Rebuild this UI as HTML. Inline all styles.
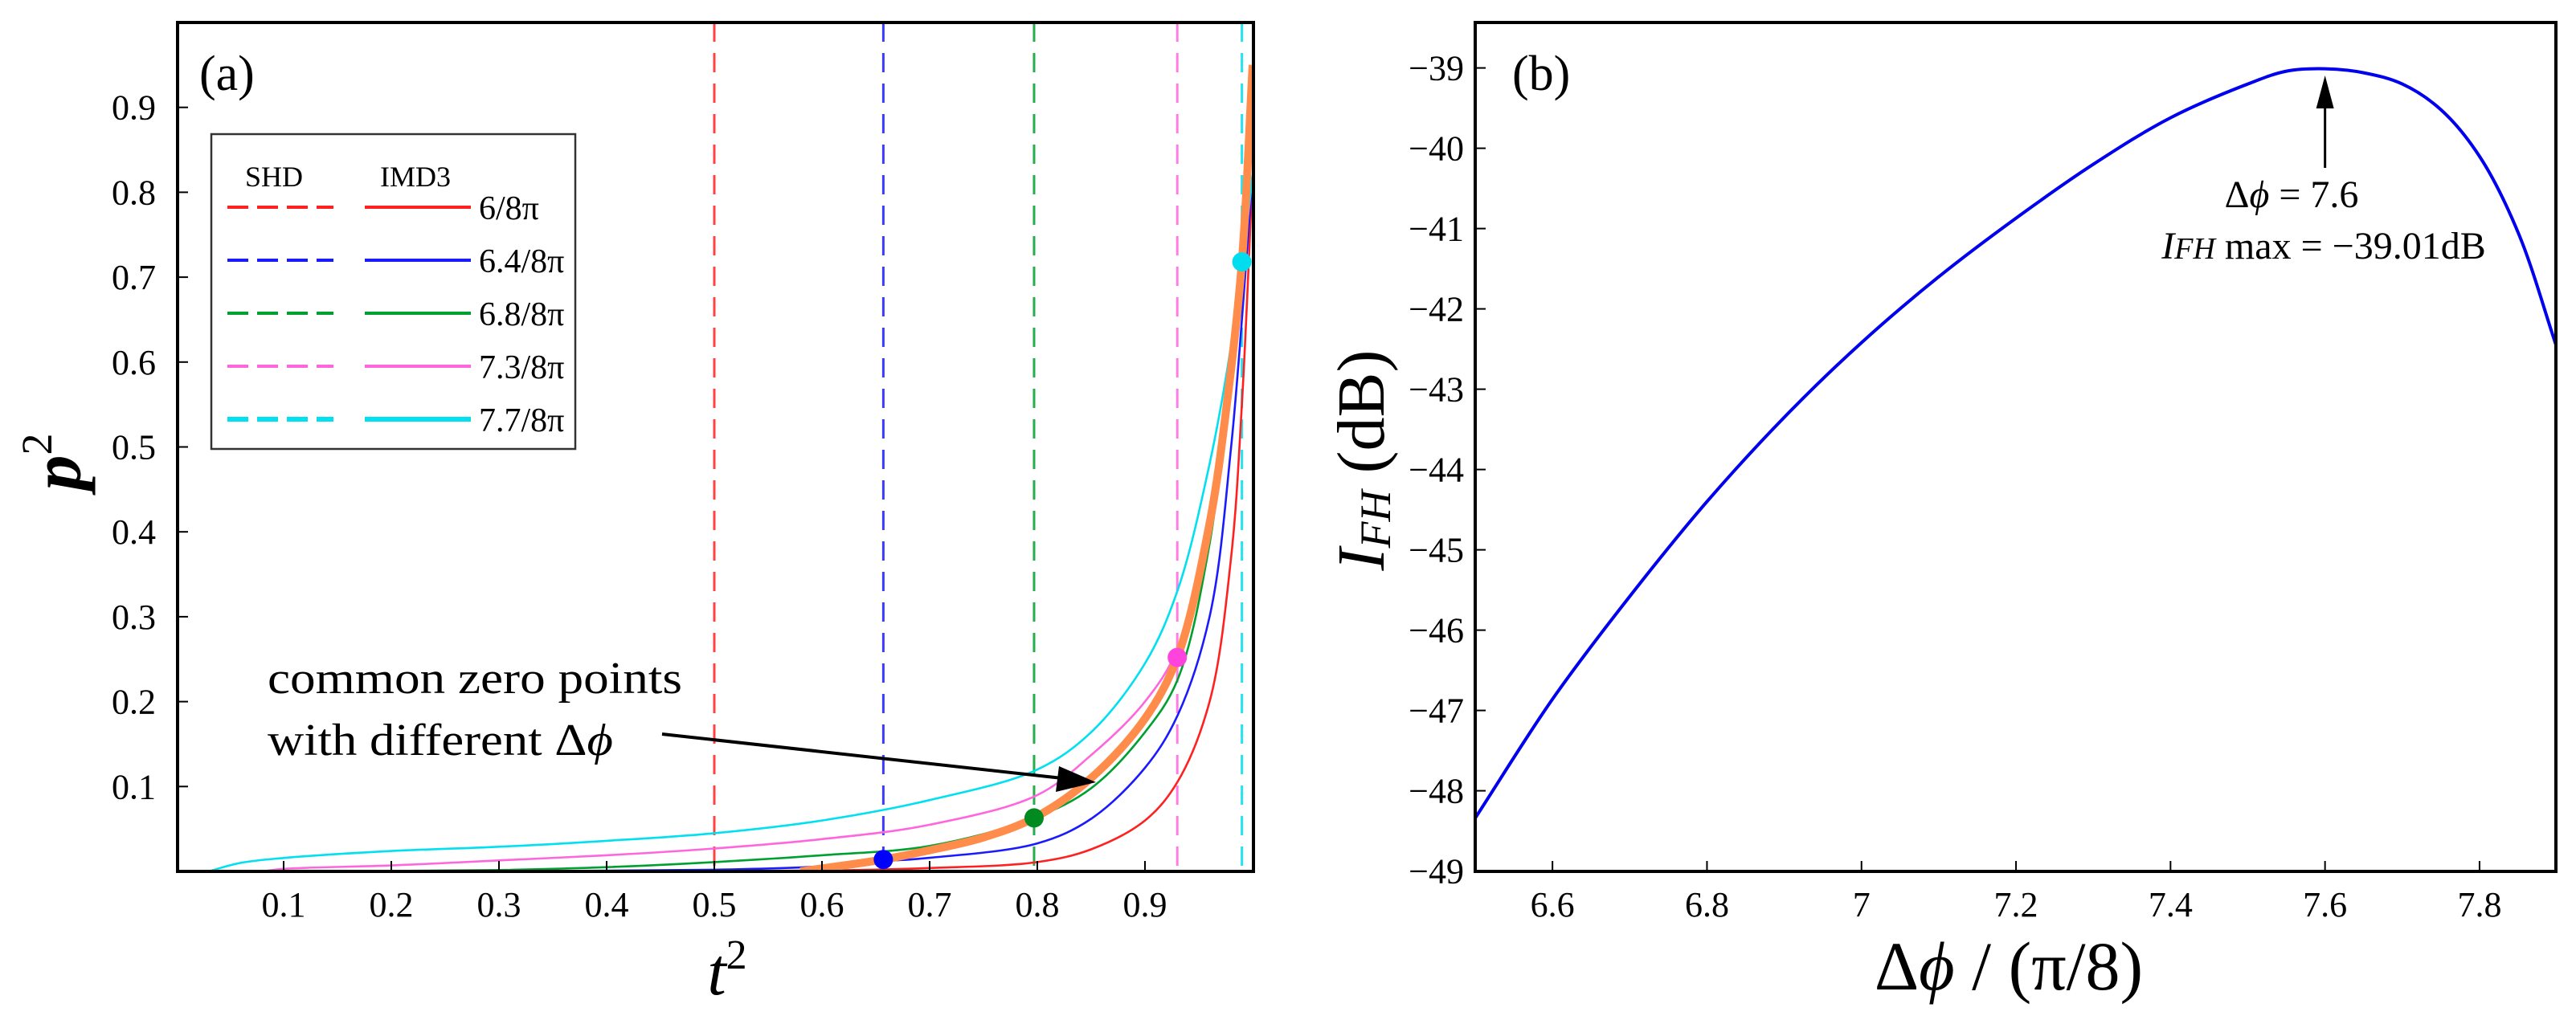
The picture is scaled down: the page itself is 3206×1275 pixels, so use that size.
<!DOCTYPE html>
<html><head><meta charset="utf-8"><style>
html,body{margin:0;padding:0;background:#fff;}
svg{display:block;font-family:"Liberation Serif",serif;}
</style></head><body>
<svg id="fig" width="3206" height="1275" viewBox="0 0 3206 1275" xmlns="http://www.w3.org/2000/svg">
<defs>
<clipPath id="clipA"><rect x="221" y="28" width="1339" height="1057"/></clipPath>
<clipPath id="clipB"><rect x="1836" y="28" width="1345" height="1057"/></clipPath>
</defs>
<g id="panelA"></g>
<g id="panelB"></g>
</svg>
<script>
// ---------- Panel (a) data ----------
const xTicksA = [0.1,0.2,0.3,0.4,0.5,0.6,0.7,0.8,0.9];
const yTicksA = [0.1,0.2,0.3,0.4,0.5,0.6,0.7,0.8,0.9];
const seriesNames = ["6/8π","6.4/8π","6.8/8π","7.3/8π","7.7/8π"];
const seriesColors = ["#ff2020","#1a1aff","#00a030","#ff66dd","#00e0f0"];
const shdLines = [0.50,0.657,0.797,0.93,0.99];
const redT = [0.45,0.6,0.7,0.8,0.85,0.9,0.93,0.96,0.98,0.99,1.0];
const redP = [0,0.001,0.004,0.011,0.026,0.06,0.105,0.2,0.37,0.55,0.82];
const blueT = [0.3,0.5,0.6,0.657,0.7,0.8,0.85,0.9,0.93,0.96,0.98,1.0];
const blueP = [0,0.002,0.006,0.012,0.016,0.033,0.062,0.122,0.183,0.30,0.5,0.82];
const greenT = [0.15,0.3,0.4,0.5,0.6,0.7,0.797,0.85,0.9,0.93,0.96,0.98,1.0];
const greenP = [0,0.0016,0.005,0.011,0.019,0.03,0.063,0.098,0.164,0.225,0.386,0.6,0.82];
const pinkT = [0.08,0.1,0.2,0.3,0.4,0.5,0.6,0.7,0.8,0.85,0.9,0.93,0.96,0.98,1.0];
const pinkP = [0,0.003,0.007,0.013,0.019,0.027,0.038,0.055,0.09,0.137,0.2,0.262,0.42,0.6,0.82];
const cyanT = [0.03,0.06,0.1,0.2,0.3,0.4,0.5,0.6,0.7,0.8,0.85,0.9,0.93,0.96,0.98,0.99,1.0];
const cyanP = [0,0.01,0.0158,0.024,0.029,0.036,0.045,0.06,0.084,0.12,0.164,0.245,0.33,0.48,0.62,0.718,0.82];
const orangeT = [0.58,0.657,0.7,0.75,0.797,0.85,0.9,0.93,0.96,0.976,0.99,1.0];
const orangeP = [0,0.014,0.025,0.04,0.063,0.11,0.18,0.252,0.41,0.55,0.718,0.95];
const zeroT = [0.657,0.797,0.93,0.99];
const zeroP = [0.014,0.063,0.252,0.718];
const zeroColors = ["#0000ff","#008a20","#ff44dd","#00ddee"];
// ---------- Panel (b) data ----------
const xTicksB = [6.6,6.8,7,7.2,7.4,7.6,7.8];
const yTicksB = [-39,-40,-41,-42,-43,-44,-45,-46,-47,-48,-49];
const phiVals = [6.5,6.6,6.7,6.8,6.9,7.0,7.1,7.2,7.3,7.4,7.5,7.55,7.6,7.65,7.7,7.75,7.8,7.85,7.9];
const ifhVals = [-48.34,-46.86,-45.58,-44.4,-43.35,-42.42,-41.6,-40.87,-40.2,-39.62,-39.2,-39.04,-39.01,-39.06,-39.2,-39.52,-40.1,-41.05,-42.48];

const NS="http://www.w3.org/2000/svg";
function mk(parent,tag,attrs,text){const e=document.createElementNS(NS,tag);for(const k in attrs)e.setAttribute(k,attrs[k]);if(text!==undefined)e.textContent=text;parent.appendChild(e);return e;}

const xA = v => 219 + v*1340;
const yA = v => 1085 - v*1057;
const xB = v => 1836 + (v-6.5)*961.5;
const yB = v => 84.6 + (-39 - v)*100;

function crPath(xs,ys,fx,fy){
  const P=xs.map((x,i)=>[fx(x),fy(ys[i])]);
  const n=P.length;
  let d="M"+P[0][0].toFixed(1)+","+P[0][1].toFixed(1);
  const dist=(a,b)=>Math.pow(Math.hypot(b[0]-a[0],b[1]-a[1]),0.5)||1e-6;
  for(let i=0;i<n-1;i++){
    const p0=i>0?P[i-1]:[2*P[0][0]-P[1][0],2*P[0][1]-P[1][1]];
    const p1=P[i],p2=P[i+1];
    const p3=i+2<n?P[i+2]:[2*P[n-1][0]-P[n-2][0],2*P[n-1][1]-P[n-2][1]];
    const d1=dist(p0,p1),d2=dist(p1,p2),d3=dist(p2,p3);
    const c1=[0,1].map(k=>(d1*d1*p2[k]-d2*d2*p0[k]+(2*d1*d1+3*d1*d2+d2*d2)*p1[k])/(3*d1*(d1+d2)));
    const c2=[0,1].map(k=>(d3*d3*p1[k]-d2*d2*p3[k]+(2*d3*d3+3*d3*d2+d2*d2)*p2[k])/(3*d3*(d3+d2)));
    d+=" C"+c1[0].toFixed(1)+","+c1[1].toFixed(1)+" "+c2[0].toFixed(1)+","+c2[1].toFixed(1)+" "+p2[0].toFixed(1)+","+p2[1].toFixed(1);
  }
  return d;
}

// ===== Panel A =====
const A=document.getElementById('panelA');
const plotA=mk(A,'g',{'clip-path':'url(#clipA)'});


shdLines.forEach((v,i)=>{
  const l=mk(plotA,'line',{x1:xA(v),x2:xA(v),y1:28,y2:1085,stroke:seriesColors[i],'stroke-width':3,'stroke-dasharray':'24,14',opacity:0.85});
  
  
});
const curveT=[redT,blueT,greenT,pinkT,cyanT], curveP=[redP,blueP,greenP,pinkP,cyanP];
curveT.forEach((ts,i)=>{
  const p=mk(plotA,'path',{d:crPath(ts,curveP[i],xA,yA),fill:'none',stroke:seriesColors[i],'stroke-width':2.6});
  
  
});
const orange=mk(plotA,'path',{d:crPath(orangeT,orangeP,xA,yA),fill:'none',stroke:'#ff8c4a','stroke-width':10});


zeroT.forEach((t,i)=>{
  const e=mk(plotA,'ellipse',{cx:xA(t),cy:yA(zeroP[i]),rx:12,ry:12,fill:zeroColors[i]});
  
  
});
const frA=mk(A,'rect',{x:221,y:28,width:1339,height:1057,fill:'none',stroke:'#000','stroke-width':4});


xTicksA.forEach(v=>{
  const t=mk(A,'line',{x1:xA(v),x2:xA(v),y1:1085,y2:1072,stroke:'#000','stroke-width':2});
  
  
  const l=mk(A,'text',{x:xA(v),y:1141,'font-size':44,'text-anchor':'middle'},String(v));
  
  
});
yTicksA.forEach(v=>{
  const t=mk(A,'line',{x1:221,x2:234,y1:yA(v),y2:yA(v),stroke:'#000','stroke-width':2});
  
  
  const l=mk(A,'text',{x:194,y:yA(v)+15,'font-size':44,'text-anchor':'end'},String(v));
  
  
});
const xtA=mk(A,'text',{x:905,y:1238,'font-size':84,'font-style':'italic','text-anchor':'middle'});
xtA.innerHTML='t<tspan font-size="52" font-style="normal" dy="-32">2</tspan>';


const ytA=mk(A,'text',{transform:'translate(100,575) rotate(-90)','font-size':88,'font-style':'italic','font-weight':'bold','text-anchor':'middle'});
ytA.innerHTML='p<tspan font-size="54" font-weight="normal" font-style="normal" dy="-36">2</tspan>';


const labA=mk(A,'text',{x:248,y:112,'font-size':62},'(a)');


const lg=mk(A,'g',{});


mk(lg,'rect',{x:263,y:167,width:453,height:392,fill:'#fff',stroke:'#333','stroke-width':2.5});
const hs=mk(lg,'text',{x:305,y:232,'font-size':36},'SHD');


const hi=mk(lg,'text',{x:473,y:232,'font-size':36},'IMD3');


const rowsY=[258,324,390,456,522];
seriesNames.forEach((nm,i)=>{
  const g=mk(lg,'g',{});
  
  
  mk(g,'line',{x1:283,x2:415,y1:rowsY[i],y2:rowsY[i],stroke:seriesColors[i],'stroke-width':i==4?6:4,'stroke-dasharray':'26,11'});
  mk(g,'line',{x1:454,x2:586,y1:rowsY[i],y2:rowsY[i],stroke:seriesColors[i],'stroke-width':i==4?6:4});
  mk(g,'text',{x:596,y:rowsY[i]+15,'font-size':42},nm);
});
const an=mk(A,'g',{});


mk(an,'text',{x:333,y:863,'font-size':56,textLength:516,lengthAdjust:'spacingAndGlyphs'},'common zero points');
mk(an,'text',{x:333,y:940,'font-size':56,textLength:430,lengthAdjust:'spacingAndGlyphs'}).innerHTML='with different Δ<tspan font-style="italic">ϕ</tspan>';
mk(an,'line',{x1:824,y1:914,x2:1322,y2:969,stroke:'#000','stroke-width':4});
mk(an,'polygon',{points:'1364,974 1318,954 1314,986',fill:'#000'});

// ===== Panel B =====
const B=document.getElementById('panelB');
const plotB=mk(B,'g',{'clip-path':'url(#clipB)'});


const cb=mk(plotB,'path',{d:crPath(phiVals,ifhVals,xB,yB),fill:'none',stroke:'#0000ee','stroke-width':4});


const frB=mk(B,'rect',{x:1836,y:28,width:1345,height:1057,fill:'none',stroke:'#000','stroke-width':4});


xTicksB.forEach(v=>{
  const t=mk(B,'line',{x1:xB(v),x2:xB(v),y1:1085,y2:1072,stroke:'#000','stroke-width':2});
  
  
  const l=mk(B,'text',{x:xB(v),y:1141,'font-size':44,'text-anchor':'middle'},String(v));
  
  
});
yTicksB.forEach(v=>{
  const t=mk(B,'line',{x1:1836,x2:1849,y1:yB(v),y2:yB(v),stroke:'#000','stroke-width':2});
  
  
  const l=mk(B,'text',{x:1822,y:yB(v)+15,'font-size':44,'text-anchor':'end'},'−'+Math.abs(v));
  
  
});
const xtB=mk(B,'text',{x:2500,y:1232,'font-size':86,'text-anchor':'middle'});
xtB.innerHTML='Δ<tspan font-style="italic">ϕ</tspan> / (π/8)';


const ytB=mk(B,'text',{transform:'translate(1722,573) rotate(-90)','font-size':84,'text-anchor':'middle'});
ytB.innerHTML='<tspan font-style="italic">I</tspan><tspan font-style="italic" font-size="54" dy="8">FH</tspan><tspan dy="-8"> (dB)</tspan>';


const labB=mk(B,'text',{x:1882,y:112,'font-size':62},'(b)');


const pk=mk(B,'g',{});


mk(pk,'line',{x1:xB(7.6),x2:xB(7.6),y1:209,y2:130,stroke:'#000','stroke-width':3});
mk(pk,'polygon',{points:`${xB(7.6)},94 ${xB(7.6)-11},135 ${xB(7.6)+11},135`,fill:'#000'});
mk(pk,'text',{x:2852,y:258,'font-size':48,'text-anchor':'middle'}).innerHTML='Δ<tspan font-style="italic">ϕ</tspan> = 7.6';
mk(pk,'text',{x:2892,y:322,'font-size':48,'text-anchor':'middle'}).innerHTML='<tspan font-style="italic">I</tspan><tspan font-style="italic" font-size="38">FH</tspan> max = −39.01dB';
</script>
</body></html>
